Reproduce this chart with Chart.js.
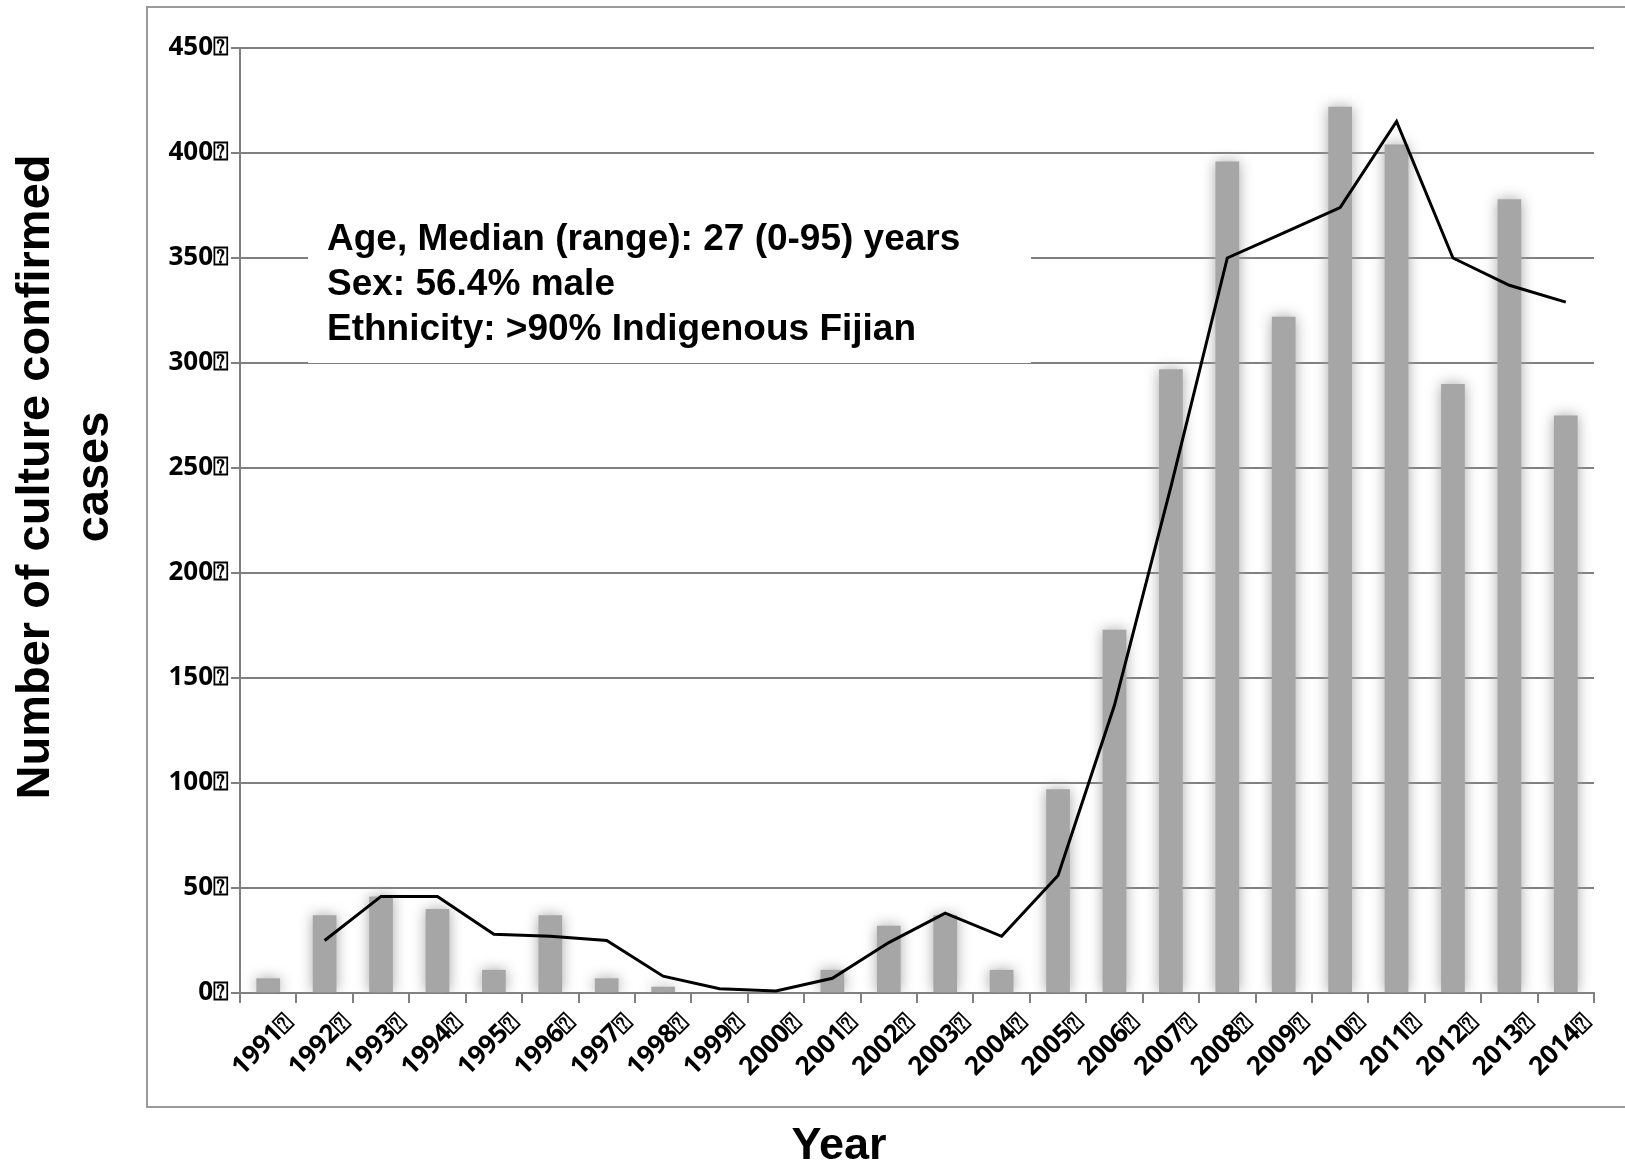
<!DOCTYPE html>
<html>
<head>
<meta charset="utf-8">
<script src="https://cdn.jsdelivr.net/npm/chart.js@4.4.1/dist/chart.umd.min.js"></script>
<style>
  html, body { margin: 0; padding: 0; background: #fff; }
</style>
</head>
<body>
<canvas id="casesChart" width="1625" height="1169"></canvas>
<script>
// data
const years = ['1991', '1992', '1993', '1994', '1995', '1996', '1997', '1998', '1999', '2000', '2001', '2002',
               '2003', '2004', '2005', '2006', '2007', '2008', '2009', '2010', '2011', '2012', '2013', '2014'];
const cases = [7, 37, 46, 40, 11, 37, 7, 3, 0, 0, 11, 32, 37, 11, 97, 173, 297, 396, 322, 422, 404, 290, 378, 275];
const trend = [null, 25, 46, 46, 28, 27, 25, 8, 2, 1, 7, 24, 38, 27, 56, 137, 241, 350, 362, 374, 415, 350, 337, 329];
const yMax = 450;
const yStep = 50;
const tickSuffix = '⍰';
const noteLines = [
    'Age, Median (range): 27 (0-95) years',
    'Sex: 56.4% male',
    'Ethnicity: >90% Indigenous Fijian'
];
const yTitle = ['Number of culture confirmed', 'cases'];
const xTitle = 'Year';

const tickFont = { family: 'Open Sans', weight: 'bold', size: 26 };

// soft edges on the bars
const barGlow = {
    id: 'barGlow',
    beforeDatasetDraw(chart, args) {
        if (args.meta.type !== 'bar') return;
        const ctx = chart.ctx;
        ctx.save();
        ctx.shadowColor = '#a6a6a6';
        ctx.shadowBlur = 14;
    },
    afterDatasetDraw(chart, args) {
        if (args.meta.type !== 'bar') return;
        chart.ctx.restore();
    }
};

// frame, titles and the note box
const decorations = {
    id: 'decorations',
    beforeDraw(chart) {
        const ctx = chart.ctx;
        ctx.save();
        ctx.fillStyle = '#fff';
        ctx.fillRect(0, 0, chart.width, chart.height);
        ctx.strokeStyle = '#9a9a9a';
        ctx.lineWidth = 2;
        ctx.beginPath();
        ctx.moveTo(1625, 7);
        ctx.lineTo(147, 7);
        ctx.lineTo(147, 1107);
        ctx.lineTo(1625, 1107);
        ctx.stroke();
        ctx.restore();
    },
    afterDraw(chart) {
        const ctx = chart.ctx;
        ctx.save();
        // note box
        ctx.fillStyle = '#fff';
        ctx.fillRect(308, 200, 723, 163);
        ctx.fillStyle = '#000';
        ctx.font = 'bold 37px "Liberation Sans", Arial, sans-serif';
        ctx.textBaseline = 'middle';
        ctx.textAlign = 'left';
        noteLines.forEach((t, i) => ctx.fillText(t, 327, 240 + i * 45));

        // y title
        ctx.font = 'bold 47px "Liberation Sans", Arial, sans-serif';
        ctx.textAlign = 'center';
        ctx.save();
        ctx.translate(36, 477);
        ctx.rotate(-Math.PI / 2);
        ctx.fillText(yTitle[0], 0, 0);
        ctx.fillText(yTitle[1], 0, 59);
        ctx.restore();

        // x title
        ctx.font = 'bold 45px "Liberation Sans", Arial, sans-serif';
        ctx.fillText(xTitle, 839, 1147);
        ctx.restore();
    }
};

const ctx = document.getElementById('casesChart').getContext('2d');
const casesChart = new Chart(ctx, {
    type: 'bar',
    data: {
        labels: years,
        datasets: [{
            type: 'line',
            data: trend,
            borderColor: '#000',
            borderWidth: 3,
            pointRadius: 0,
            tension: 0,
            fill: false,
            order: 1
        }, {
            data: cases,
            backgroundColor: '#a6a6a6',
            barPercentage: 0.42,
            categoryPercentage: 1,
            order: 2
        }]
    },
    options: {
        responsive: false,
        animation: false,
        devicePixelRatio: 1,
        layout: { padding: { top: 48, right: 31, left: 0, bottom: 0 } },
        plugins: {
            legend: { display: false },
            tooltip: { enabled: false }
        },
        scales: {
            x: {
                offset: true,
                grid: {
                    offset: true,
                    drawOnChartArea: false,
                    drawTicks: true,
                    tickLength: 10,
                    color: '#808080',
                    lineWidth: 2
                },
                border: { color: '#808080', width: 2 },
                ticks: {
                    color: '#000',
                    font: tickFont,
                    minRotation: 45,
                    maxRotation: 45,
                    padding: 4,
                    labelOffset: 22,
                    callback: function (v) { return this.getLabelForValue(v) + tickSuffix; }
                },
                afterFit: s => { s.height = 176; }
            },
            y: {
                min: 0,
                max: yMax,
                z: 1,
                grid: {
                    color: 'rgba(0,0,0,0.5)',
                    lineWidth: 2,
                    drawTicks: true,
                    tickLength: 9
                },
                border: { color: '#808080', width: 2 },
                ticks: {
                    stepSize: yStep,
                    color: '#000',
                    font: tickFont,
                    padding: 2,
                    callback: v => v + tickSuffix
                },
                afterFit: s => { s.width = 240; }
            }
        }
    },
    plugins: [barGlow, decorations]
});
</script>
</body>
</html>
